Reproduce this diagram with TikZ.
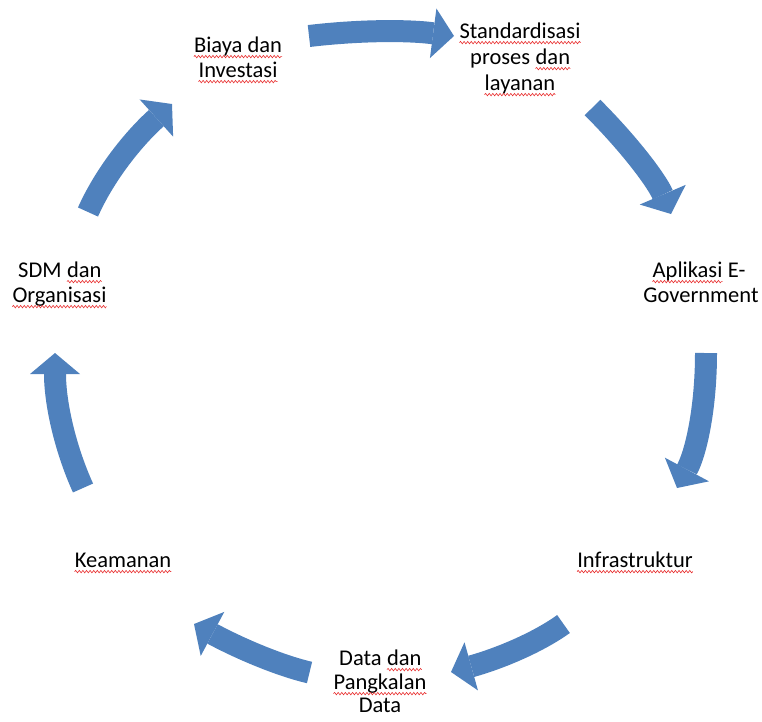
\documentclass[tikz,border=0pt]{standalone}
\usepackage{fontspec}
\setmainfont{Carlito}
\usetikzlibrary{arrows.meta,decorations.pathmorphing,calc}
\definecolor{cycleblue}{RGB}{79,129,189}
\definecolor{spellred}{RGB}{232,45,45}
\begin{document}
\begin{tikzpicture}[x=1pt,y=-1pt,
  lbl/.style={font=\fontsize{22.5}{24.5}\selectfont, inner sep=0pt, anchor=base, text=black},
  lblw/.style={lbl, anchor=base west},
  flow/.style={draw=cycleblue, line width=22pt,
    -{Triangle[width=50pt,length=21pt,line width=0pt]}},
  spell/.style={draw=spellred, line width=0.6pt, decorate,
    decoration={snake, amplitude=1.2pt, segment length=3.6pt}}]
\useasboundingbox (0,0) rectangle (762,721);

% ---- labels of the cycle ----
\node[lbl] (bi1) at (238,52) {Biaya dan};
\node[lbl] (bi2) at (238,77) {Investasi};

\node[lbl]  (st1)  at (520,38) {Standardisasi};
\node[lblw] (st2a) at (470,64) {proses};
\node[lblw] (st2b) at ([xshift=5.1pt]st2a.base east) {dan};
\node[lbl]  (st3)  at (520,90) {layanan};

\node[lblw] (ap1a) at (652.5,277) {Aplikasi};
\node[lblw] (ap1b) at ([xshift=5.1pt]ap1a.base east) {E-};
\node[lbl]  (ap2)  at (701,302) {Government};

\node[lblw] (sd1a) at (18,277) {SDM};
\node[lblw] (sd1b) at ([xshift=5.1pt]sd1a.base east) {dan};
\node[lbl]  (sd2)  at (59.5,302) {Organisasi};

\node[lbl] (ke)  at (123,567) {Keamanan};
\node[lbl] (inf) at (635,567) {Infrastruktur};

\node[lblw] (da1a) at (339,665) {Data};
\node[lblw] (da1b) at ([xshift=5.1pt]da1a.base east) {dan};
\node[lbl]  (da2)  at (380,689) {Pangkalan};
\node[lbl]  (da3)  at (380,712) {Data};

% ---- wavy spelling underlines ----
\foreach \w in {bi1,bi2,st1,st2b,st3,ap1a,sd1b,sd2,ke,inf,da1b,da2}
  \draw[spell] ([yshift=-4.6pt]\w.base west) -- ([yshift=-4.6pt]\w.base east);

% ---- curved block arrows: start, bend point, tip ----
\coordinate (a1s) at (309,36);      \coordinate (a1c) at (385,27);   \coordinate (a1t) at (454,36);
\coordinate (a2s) at (592.5,107.5); \coordinate (a2c) at (650,165);  \coordinate (a2t) at (671,214);
\coordinate (a3s) at (706,353);     \coordinate (a3c) at (706,434);  \coordinate (a3t) at (677,488);
\coordinate (a4s) at (563.5,624);   \coordinate (a4c) at (526,651);  \coordinate (a4t) at (451,672);
\coordinate (a5s) at (309.5,672.5); \coordinate (a5c) at (265,662);  \coordinate (a5t) at (194,624);
\coordinate (a6s) at (83,488);      \coordinate (a6c) at (55,426);   \coordinate (a6t) at (55,353);
\coordinate (a7s) at (88,212);      \coordinate (a7c) at (112,158);  \coordinate (a7t) at (172,104);

% quadratic arcs written as cubic curves
\foreach \k in {1,...,7}
  \draw[flow] (a\k s) .. controls ($(a\k s)!2/3!(a\k c)$) and ($(a\k t)!2/3!(a\k c)$) .. (a\k t);
\end{tikzpicture}
\end{document}
